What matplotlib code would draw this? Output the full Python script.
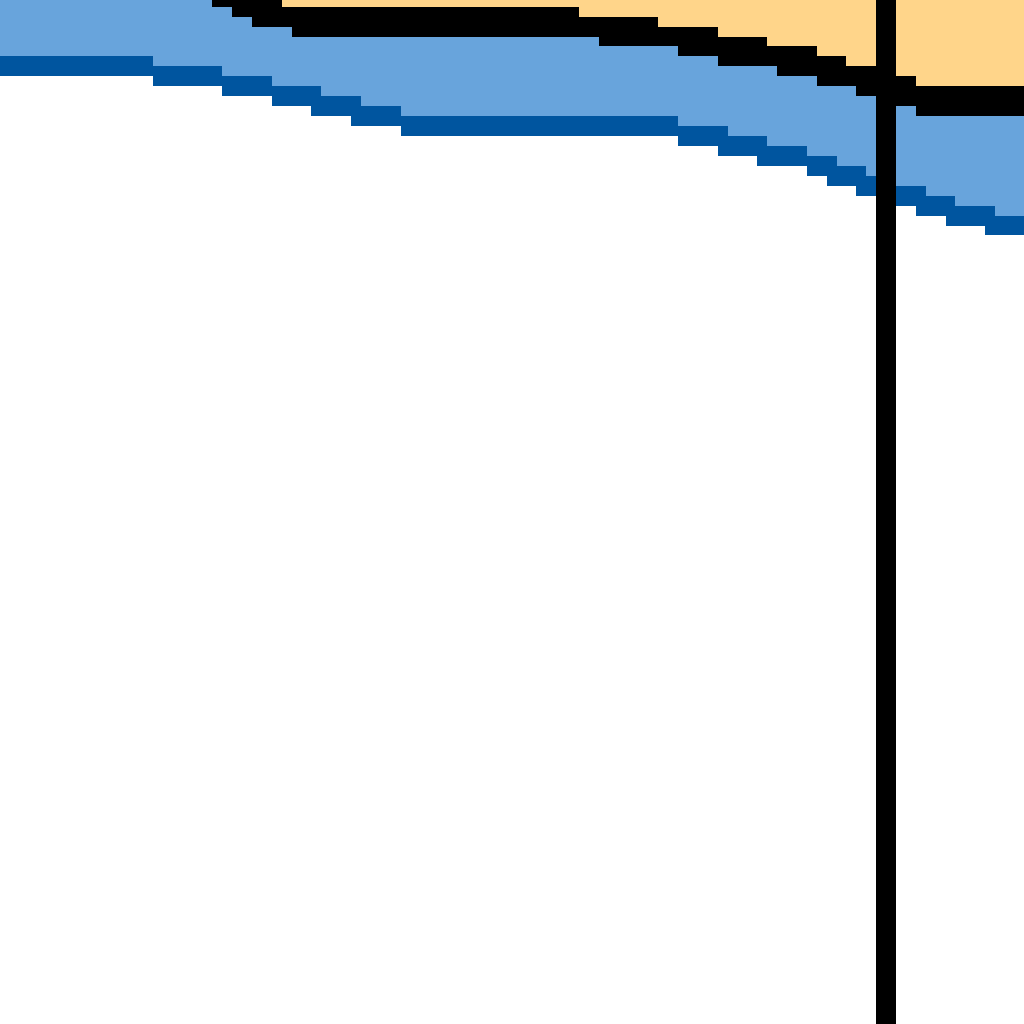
import matplotlib
matplotlib.use("Agg")
import matplotlib.pyplot as plt
import numpy as np

# values (image units, y grows downward)
black_x = [212, 232, 252, 282, 292, 579, 599, 658, 678, 718, 767, 777, 817, 846, 856, 876, 896, 916, 1024]
black_top = [0, 0, 0, 7, 7, 17, 17, 27, 27, 37, 46, 46, 56, 66, 66, 71, 76, 86]
black_bot = [7, 17, 27, 27, 37, 37, 46, 46, 56, 66, 66, 76, 86, 86, 96, 101, 106, 116]

blue_x = [0, 153, 222, 272, 311, 321, 351, 361, 401, 678, 718, 728, 757, 767, 807, 827, 837,
          856, 866, 896, 916, 926, 946, 955, 985, 995, 1024]
blue_top = [56, 66, 76, 86, 86, 96, 96, 106, 116, 126, 126, 136, 136, 146, 156, 156, 166,
            166, 176, 186, 186, 196, 196, 206, 206, 216]
blue_bot = [76, 86, 96, 106, 116, 116, 126, 126, 136, 146, 156, 156, 166, 166, 176, 186, 186,
            196, 196, 206, 216, 216, 226, 226, 235, 235]

vline_x = 886

ORANGE = "#FFD58A"
LIGHT = "#68A4DC"
DARK = "#00559F"


def ext(v):
    return list(v) + [v[-1]]


fig = plt.figure(figsize=(10.24, 10.24), dpi=100)
ax = fig.add_axes([0, 0, 1, 1])
ax.set_xlim(0, 1024)
ax.set_ylim(1024, 0)
ax.axis("off")

# light blue band between the two lines
ax.fill_between(blue_x, 0, ext(blue_top), step="post", color=LIGHT, lw=0, antialiased=False)
# orange area above the black line
ax.fill_between(black_x, 0, ext(black_top), step="post", color=ORANGE, lw=0, antialiased=False)
ax.fill_between([black_x[-1] - 200, 1024], 0, 0, color=ORANGE, lw=0)
# black line
ax.fill_between(black_x, ext(black_top), ext(black_bot), step="post", color="black", lw=0,
                antialiased=False)
# dark blue line
ax.fill_between(blue_x, ext(blue_top), ext(blue_bot), step="post", color=DARK, lw=0,
                antialiased=False)
# vertical marker
ax.axvspan(vline_x - 10, vline_x + 10, color="black", lw=0)

fig.savefig("out.png", dpi=100)
